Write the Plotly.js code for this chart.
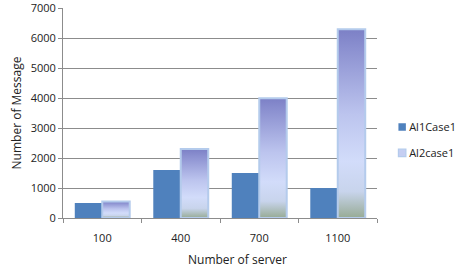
<!DOCTYPE html>
<html>
<head>
<meta charset="utf-8">
<script src="https://cdn.plot.ly/plotly-3.0.1.min.js"></script>
<style>html,body{margin:0;padding:0;background:#fff;}#chart{width:469px;height:278px;}</style>
</head>
<body>
<div id="chart"></div>
<script>
var categories = ['100', '400', '700', '1100'];
var al1Case1 = [500, 1600, 1500, 1000];
var al2Case1 = [550, 2300, 4000, 6300];
var yTicks = [0, 1000, 2000, 3000, 4000, 5000, 6000, 7000];

var FONT = '"Open Sans", "Liberation Sans", sans-serif';

var traces = [
  {type: 'bar', name: 'Al1Case1', x: categories, y: al1Case1,
   marker: {color: '#4f81bd', line: {width: 0}}, legend: 'legend'},
  {type: 'bar', name: 'Al2case1', x: categories, y: al2Case1,
   marker: {color: '#c5cef2', line: {color: '#b4cbec', width: 2}}, legend: 'legend2'}
];

var layout = {
  width: 469, height: 278,
  margin: {l: 63, r: 86, t: 8, b: 60},
  paper_bgcolor: '#fff', plot_bgcolor: '#fff',
  font: {family: FONT, size: 11, color: '#222'},
  barmode: 'group', bargap: 0.3, bargroupgap: 0,
  showlegend: true,
  xaxis: {
    type: 'category', tickson: 'boundaries', ticks: 'outside', ticklen: 4,
    tickcolor: '#8c8c8c', showline: true, linecolor: '#8c8c8c', linewidth: 1,
    showgrid: false, ticklabelstandoff: 10, tickfont: {size: 11, color: '#222'}
  },
  yaxis: {
    range: [0, 7010], tickvals: yTicks, ticks: 'outside', ticklen: 4,
    tickcolor: '#8c8c8c', showline: true, linecolor: '#8c8c8c', linewidth: 1,
    showgrid: true, gridcolor: '#8c8c8c', gridwidth: 1, zeroline: false,
    tickfont: {size: 11, color: '#222'},
    title: {text: 'Number of Message', font: {size: 12, color: '#222'}, standoff: 6}
  },
  legend: {x: 0.975, xanchor: 'left', y: 0.433, yanchor: 'middle',
           font: {size: 11, color: '#222'}, bgcolor: 'rgba(0,0,0,0)'},
  legend2: {x: 0.975, xanchor: 'left', y: 0.31, yanchor: 'middle',
           font: {size: 11, color: '#222'}, bgcolor: 'rgba(0,0,0,0)'},
  annotations: [{
    text: 'Number of server', xref: 'paper', yref: 'paper', x: 0.556, y: 0,
    yshift: -41, xanchor: 'center', yanchor: 'middle', showarrow: false,
    font: {size: 12, color: '#222'}
  }]
};

Plotly.newPlot('chart', traces, layout, {staticPlot: true, displayModeBar: false}).then(function (gd) {
  var svg = gd.querySelector('.main-svg');
  var defs = svg.querySelector('defs');
  var ns = 'http://www.w3.org/2000/svg';
  var lg = document.createElementNS(ns, 'linearGradient');
  lg.setAttribute('id', 'al2grad');
  lg.setAttribute('x1', '0'); lg.setAttribute('y1', '0');
  lg.setAttribute('x2', '0'); lg.setAttribute('y2', '1');
  var stops = [[0, '#7c80c6'], [0.1, '#8b90d0'], [0.45, '#bcc4ee'], [0.7, '#d2dcfa'], [0.86, '#c8d4ec'], [1, '#97ab95']];
  stops.forEach(function (s) {
    var st = document.createElementNS(ns, 'stop');
    st.setAttribute('offset', s[0]);
    st.setAttribute('stop-color', s[1]);
    lg.appendChild(st);
  });
  defs.appendChild(lg);
  var barTraces = gd.querySelectorAll('.barlayer .trace');
  if (barTraces[1]) {
    barTraces[1].querySelectorAll('path').forEach(function (p) {
      p.style.fill = 'url(#al2grad)';
    });
  }
  gd.querySelectorAll('.legendpoints path').forEach(function (p) {
    p.setAttribute('transform', 'translate(33,0) scale(0.62)');
  });
});
</script>
</body>
</html>
